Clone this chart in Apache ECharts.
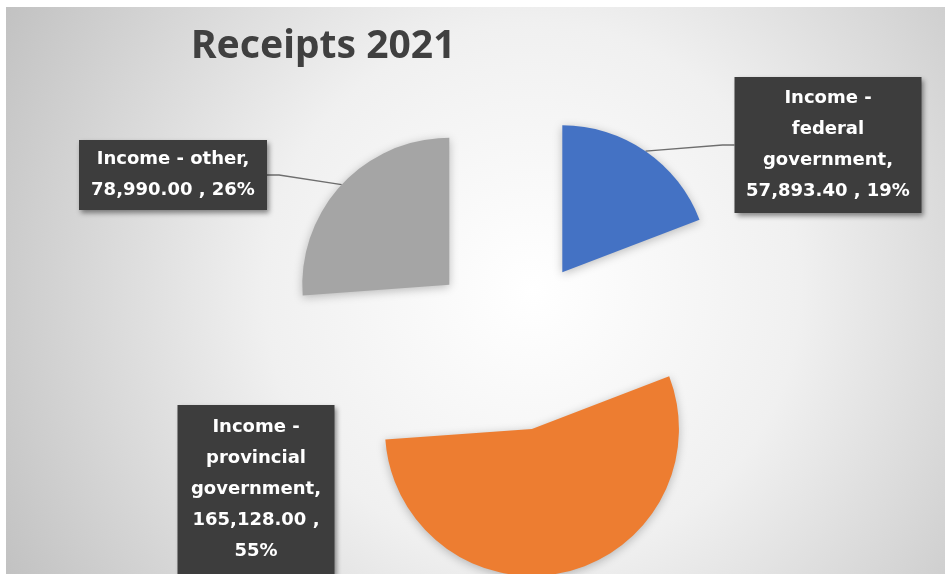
<!DOCTYPE html>
<html lang="en">
<head>
    <meta charset="UTF-8">
    <title>Receipts 2021</title>
    <script src="https://cdn.jsdelivr.net/npm/echarts@6/dist/echarts.min.js"></script>
    <style>
        html, body { margin: 0; padding: 0; background: #fff; }
        #main { position: absolute; left: 6px; top: 7px; width: 939px; height: 567px; }
    </style>
</head>
<body>
<div id="main"></div>
<script type="text/javascript">
    // data
    var categories = ['Income - federal government', 'Income - provincial government', 'Income - other'];
    var values = [57893.40, 165128.00, 78990.00];
    var colors = ['#4472C4', '#ED7D31', '#A5A5A5'];
    // how excel wrapped each label
    var labelNames = ['Income -\nfederal\ngovernment,', 'Income -\nprovincial\ngovernment,', 'Income - other,'];
    var valueBreak = [' ', '\n', ' '];

    // layout: pie centre, radius, explode distance, label boxes (centre x, top y)
    var pieCenter = [507, 337];
    var pieRadius = 147;
    var explode = 87;
    var labelPos = [[822, 70], [250, 398], [167, 133]];
    var labelWidth = [171, 149, 172];
    var labelPad = [[6, 8], [7, 4], [4, 8]];

    var myChart = echarts.init(document.getElementById('main'));

    // each slice gets its own pie series, moved out along its mid angle
    var total = values.reduce(function (a, b) { return a + b; }, 0);
    var start = 0;
    var series = [];
    values.forEach(function (v, i) {
        var mid = (start + v / total * 180) * Math.PI / 180;
        start += v / total * 360;
        var c = [pieCenter[0] + explode * Math.sin(mid), pieCenter[1] - explode * Math.cos(mid)];
        series.push({
            type: 'pie',
            center: c,
            radius: pieRadius,
            startAngle: 90,
            silent: true,
            data: categories.map(function (name, j) {
                var own = j === i;
                return {
                    name: name,
                    value: values[j],
                    itemStyle: own ? { color: colors[j] } : { color: 'rgba(0,0,0,0)', shadowColor: 'rgba(0,0,0,0)' },
                    label: { show: own, width: labelWidth[j], padding: labelPad[j] },
                    labelLine: { show: own && j !== 1 }
                };
            }),
            itemStyle: { shadowBlur: 10, shadowColor: 'rgba(0,0,0,0.25)', shadowOffsetY: 2 },
            label: {
                position: 'outside',
                formatter: function (p) {
                    var s = p.value.toLocaleString('en-US', { minimumFractionDigits: 2, maximumFractionDigits: 2 });
                    return labelNames[p.dataIndex] + '\n' + s + ' ,' + valueBreak[p.dataIndex] + Math.round(p.percent) + '%';
                },
                fontFamily: 'DejaVu Sans',
                fontWeight: 'bold',
                fontSize: 18,
                lineHeight: 31,
                overflow: 'none',
                color: '#ffffff',
                align: 'center',
                backgroundColor: '#3d3d3d',
                shadowColor: 'rgba(0,0,0,0.45)',
                shadowBlur: 5,
                shadowOffsetX: 2,
                shadowOffsetY: 3
            },
            labelLine: {
                length: 20,
                length2: 12,
                lineStyle: { color: '#6e6e6e', width: 1.3 }
            },
            labelLayout: function (params) {
                var p = labelPos[params.dataIndex];
                return { x: p[0], y: p[1], align: 'center', verticalAlign: 'top' };
            }
        });
    });

    myChart.setOption({
        animation: false,
        backgroundColor: {
            type: 'radial', x: 0.56, y: 0.5, r: 1.05,
            colorStops: [
                { offset: 0, color: '#ffffff' },
                { offset: 0.45, color: '#f0f0f0' },
                { offset: 1, color: '#c2c2c2' }
            ]
        },
        title: {
            text: 'Receipts 2021',
            left: 180,
            top: 15,
            textStyle: { fontFamily: 'Noto Sans', fontWeight: 'bold', fontSize: 39, color: '#404040' }
        },
        series: series
    });
</script>
</body>
</html>
